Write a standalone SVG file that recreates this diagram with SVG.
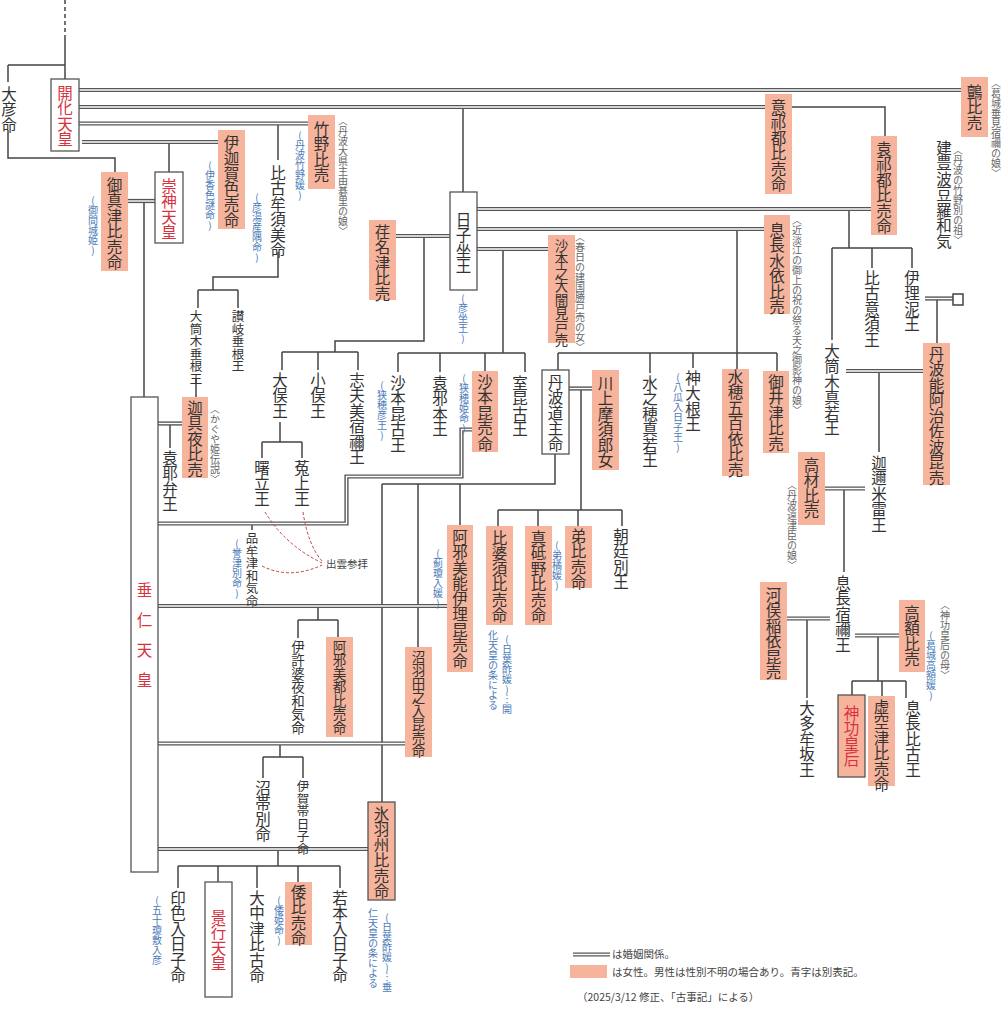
<svg xmlns="http://www.w3.org/2000/svg" width="1006" height="1012" viewBox="0 0 1006 1012">
<style>
.v{writing-mode:vertical-rl;text-orientation:upright;font-family:"Noto Sans CJK JP","Noto Sans CJK SC",sans-serif;font-size:15.5px;fill:#333}
.s{font-size:12.5px}
.m{font-size:13.5px}
.r{fill:#d8323f}
.a{writing-mode:vertical-rl;text-orientation:upright;font-family:"Noto Sans CJK JP",sans-serif;font-size:10px;fill:#666}
.b{fill:#4a7ab8}
.f{fill:#f6b49c}
.w{fill:#fff;stroke:#555;stroke-width:1.3}
.fb{fill:#f6b49c;stroke:#555;stroke-width:1.3}
.l{fill:none;stroke:#444;stroke-width:1.5}
.d1{fill:none;stroke:#555;stroke-width:4.2}
.d2{fill:none;stroke:#fff;stroke-width:1.4}
.h{font-family:"Noto Sans CJK JP",sans-serif;font-size:10.5px;fill:#444}
</style>
<defs>
<path id="m1" d="M79,90H961"/>
<path id="m2" d="M79,107H765"/>
<path id="m3" d="M79,123.5H308"/>
<path id="m4" d="M82,142H218"/>
<path id="m5" d="M128,201H155"/>
<path id="m6" d="M477,209H871"/>
<path id="m7" d="M477,229H764"/>
<path id="m8" d="M477,249H548"/>
<path id="m9" d="M396,236H450"/>
<path id="m10" d="M158,423.5H182"/>
<path id="m11" d="M472,429.5H461.5V476.5H346.5V523.5H158"/>
<path id="m12" d="M569,388.5H592"/>
<path id="m13" d="M158,606H447"/>
<path id="m14" d="M158,743.5H405"/>
<path id="m15" d="M158,849H368"/>
<path id="m16" d="M925,298.5H953"/>
<path id="m17" d="M846,371H923"/>
<path id="m18" d="M825,488.5H865"/>
<path id="m19" d="M787,618.5H830"/>
<path id="m20" d="M855,635.5H899"/>
<path id="m21" d="M573,954.5H610"/>
</defs>
<rect width="1006" height="1012" fill="#fff"/>
<g id="connectors">
<path class="l" d="M65,0V35" stroke-dasharray="4,3"/>
<path class="l" d="M65,35V79M8,65H65M8,65V82M8,130V158H115V172M169,143V172M278,125V160M463,108V192M792,107H885V136"/>
<path class="l" d="M278,252V277H213V290M198,290H238M198,290V308M238,290V308M196,378V397M170,425V448"/>
<path class="l" d="M424,237V341H335V352M282,352H358M282,352V370M318,352V370M358,352V370M280,422V442M262,442H302M262,442V458M302,442V458"/>
<path class="l" d="M503,250V353M398,353H525M398,353V372M440,353V372M485,353V371M525,353V372"/>
<path class="l" d="M849,210V248M832,248H912M832,248V340M872,248V268M912,248V268"/>
<path class="l" d="M737,230V369M558,353H777M558,353V370M650,353V373M693,353V368M777,353V371"/>
<path class="l" d="M937,300V343M879,372V452M844,490V572M807,620V698M878,637V681M852,681H906M852,681V695M882,681V696M906,681V698"/>
<path class="l" d="M252,525V530M555,454V484H382M382,484V802M418,484V647M460,484V525"/>
<path class="l" d="M581,390V510M498,510H622M498,510V526M538,510V526M578,510V526M622,510V526"/>
<path class="l" d="M318,607V620M298,620H338M298,620V638M338,620V637M280,745V757M263,757H303M263,757V778M303,757V778"/>
<path class="l" d="M278,850V866M178,866H340M178,866V888M218,866V882M257,866V888M298,866V882M340,866V888M144,202V397"/>
<g>
<use href="#m1" class="d1"/><use href="#m1" class="d2"/>
<use href="#m2" class="d1"/><use href="#m2" class="d2"/>
<use href="#m3" class="d1"/><use href="#m3" class="d2"/>
<use href="#m4" class="d1"/><use href="#m4" class="d2"/>
<use href="#m5" class="d1"/><use href="#m5" class="d2"/>
<use href="#m6" class="d1"/><use href="#m6" class="d2"/>
<use href="#m7" class="d1"/><use href="#m7" class="d2"/>
<use href="#m8" class="d1"/><use href="#m8" class="d2"/>
<use href="#m9" class="d1"/><use href="#m9" class="d2"/>
<use href="#m10" class="d1"/><use href="#m10" class="d2"/>
<use href="#m11" class="d1"/><use href="#m11" class="d2"/>
<use href="#m12" class="d1"/><use href="#m12" class="d2"/>
<use href="#m13" class="d1"/><use href="#m13" class="d2"/>
<use href="#m14" class="d1"/><use href="#m14" class="d2"/>
<use href="#m15" class="d1"/><use href="#m15" class="d2"/>
<use href="#m16" class="d1"/><use href="#m16" class="d2"/>
<use href="#m17" class="d1"/><use href="#m17" class="d2"/>
<use href="#m18" class="d1"/><use href="#m18" class="d2"/>
<use href="#m19" class="d1"/><use href="#m19" class="d2"/>
<use href="#m20" class="d1"/><use href="#m20" class="d2"/>
</g>
<path d="M265,512Q285,545 322,563M303,512Q308,545 322,561M262,566Q290,580 322,565" fill="none" stroke="#b44" stroke-width="1" stroke-dasharray="3,2"/>
</g>
<g id="n-oohiko"><text class="v" x="9" y="86">大彦命</text></g>
<g id="n-kaika"><rect class="w" x="51" y="79" width="28" height="72"/><text class="v r" x="65" y="85">開化天皇</text></g>
<g id="n-washi"><rect class="f" x="961" y="77" width="27" height="60"/><text class="v" x="974.5" y="84">鸇比売</text><text class="a" x="996" y="78">〈葛城垂見宿禰の娘〉</text></g>
<g id="n-okizu"><rect class="f" x="765" y="94" width="27" height="100"/><text class="v" x="778.5" y="99">意祁都比売命</text></g>
<g id="n-takeno"><rect class="f" x="308" y="115" width="27" height="74"/><text class="v" x="321.5" y="121">竹野比売</text><text class="a b" x="300" y="130">(丹波竹野媛)</text><text class="a" x="343" y="116">〈丹波大県主由碁里の娘〉</text></g>
<g id="n-ikaga"><rect class="f" x="218" y="130" width="27" height="99"/><text class="v" x="231.5" y="135">伊迦賀色売命</text><text class="a b" x="210" y="160">(伊香色謎命)</text></g>
<g id="n-hikoyumusumi"><text class="v" x="278" y="165">比古牟須美命</text><text class="a b" x="257" y="192">(彦湯産隅命)</text></g>
<g id="n-sujin"><rect class="w" x="155" y="172" width="28" height="71"/><text class="v r" x="169" y="178">崇神天皇</text></g>
<g id="n-mimatsu"><rect class="f" x="101" y="172" width="27" height="99"/><text class="v" x="114.5" y="177">御真津比売命</text><text class="a b" x="93" y="195">(御間城姫)</text></g>
<g id="n-hikoimasu"><rect class="w" x="450" y="192" width="27" height="98"/><text class="v" x="463.5" y="212">日子坐王</text><text class="a b" x="463" y="293">(彦坐王)</text></g>
<g id="n-okezu"><rect class="f" x="871" y="136" width="26" height="99"/><text class="v" x="884" y="141">袁祁都比売命</text></g>
<g id="n-taketoyo"><text class="v" x="944" y="140">建豊波豆羅和気</text><text class="a" x="958" y="145">〈丹波の竹野別の祖〉</text></g>
<g id="n-enatsu"><rect class="f" x="369" y="220" width="27" height="80"/><text class="v" x="382.5" y="224">荏名津比売</text></g>
<g id="n-sahonooo"><rect class="f" x="548" y="235" width="27" height="108"/><text class="v m" x="561.5" y="239">沙本之大闇見戸売</text><text class="a" x="580" y="232">〈春日の建国勝戸売の女〉</text></g>
<g id="n-okinaga-mizu"><rect class="f" x="764" y="215" width="26" height="99"/><text class="v" x="777" y="222">息長水依比売</text><text class="a" x="797" y="215">〈近淡江の御上の祝の祭る天之御影神の娘〉</text></g>
<g id="n-hikoosu"><text class="v" x="872" y="270">比古意須王</text></g>
<g id="n-irine"><text class="v" x="912" y="270">伊理泥王</text></g>
<g id="n-unknown"><rect x="953" y="294" width="10" height="11" fill="#fff" stroke="#444" stroke-width="1.5"/></g>
<g id="n-otsutsuki-mawaka"><text class="v" x="832" y="343">大筒木真若王</text></g>
<g id="n-tanba-aji"><rect class="f" x="923" y="343" width="27" height="142"/><text class="v" x="936.5" y="346">丹波能阿治佐波昆売</text></g>
<g id="n-omata"><text class="v" x="280" y="372">大俣王</text></g>
<g id="n-omata2"><text class="v" x="318" y="372">小俣王</text></g>
<g id="n-shibumi"><text class="v" x="357" y="372">志夫美宿禰王</text></g>
<g id="n-sahobiko"><text class="v" x="398" y="375">沙本昆古王</text><text class="a b" x="382" y="380">(狭穂彦王)</text></g>
<g id="n-oza"><text class="v" x="440" y="375">袁邪本王</text></g>
<g id="n-sahobime"><rect class="f" x="472" y="371" width="26" height="81"/><text class="v" x="485" y="374">沙本昆売命</text><text class="a b" x="464" y="373">(狭穂姫命)</text></g>
<g id="n-murobiko"><text class="v" x="520" y="375">室昆古王</text></g>
<g id="n-tanbamichi"><rect class="w" x="542" y="370" width="27" height="84"/><text class="v" x="555.5" y="374">丹波道主命</text></g>
<g id="n-kawakami"><rect class="f" x="592" y="370" width="27" height="100"/><text class="v" x="605.5" y="375">川上摩須郎女</text></g>
<g id="n-mizuho-mawaka"><text class="v" x="650" y="375">水之穂真若王</text></g>
<g id="n-kamuoone"><text class="v" x="693" y="370">神大根王</text><text class="a b" x="678" y="372">(八瓜入日子王)</text></g>
<g id="n-mizuho-ioyori"><rect class="f" x="722" y="369" width="27" height="107"/><text class="v" x="735.5" y="369">水穂五百依比売</text></g>
<g id="n-mii"><rect class="f" x="763" y="371" width="26" height="82"/><text class="v" x="776" y="374">御井津比売</text></g>
<g id="n-otsutsuki-tarune"><text class="v s" x="196" y="310">大筒木垂根王</text></g>
<g id="n-sanuki"><text class="v s" x="238" y="310">讃岐垂根王</text></g>
<g id="n-kaguya"><rect class="f" x="182" y="397" width="26" height="81"/><text class="v" x="195" y="400">迦具夜比売</text><text class="a" x="215" y="404">〈かぐや姫伝説〉</text></g>
<g id="n-ozabe"><text class="v" x="170" y="450">袁耶弁王</text></g>
<g id="n-suinin"><rect class="w" x="131" y="397" width="27" height="475"/><text class="v r" x="144.5" y="582">垂</text><text class="v r" x="144.5" y="612">仁</text><text class="v r" x="144.5" y="642">天</text><text class="v r" x="144.5" y="672">皇</text></g>
<g id="n-akebotatsu"><text class="v" x="262" y="460">曙立王</text></g>
<g id="n-unakami"><text class="v" x="302" y="460">菟上王</text></g>
<g id="n-homutsuwake"><text class="v s" x="252" y="532">品牟津和気命</text><text class="a b" x="237" y="538">(誉津別命)</text></g>
<text class="h" x="326" y="568">出雲参拝</text>
<g id="n-azami-iri"><rect class="f" x="447" y="525" width="26" height="147"/><text class="v" x="460" y="529">阿邪美能伊理昆売命</text><text class="a b" x="438" y="548">(薊瓊入媛)</text></g>
<g id="n-hibasu"><rect class="f" x="486" y="526" width="27" height="99"/><text class="v" x="499.5" y="530">比婆須比売命</text><text class="a b" x="507" y="634">(日葉酢媛)…開</text><text class="a b" x="493" y="630">化天皇の条による</text></g>
<g id="n-matono"><rect class="f" x="525" y="526" width="27" height="99"/><text class="v" x="538.5" y="530">真砥野比売命</text></g>
<g id="n-otohime"><rect class="f" x="565" y="526" width="27" height="62"/><text class="v" x="578.5" y="528">弟比売命</text><text class="a b" x="557" y="540">(弟橘媛)</text></g>
<g id="n-mikado"><text class="v" x="621" y="528">朝廷別王</text></g>
<g id="n-takaki"><rect class="f" x="798" y="452" width="27" height="73"/><text class="v" x="811.5" y="457">高材比売</text><text class="a" x="792" y="480">〈丹波遠津臣の娘〉</text></g>
<g id="n-kanimeikazuchi"><text class="v" x="879" y="455">迦邇米雷王</text></g>
<g id="n-okinaga-sukune"><text class="v" x="843" y="575">息長宿禰王</text></g>
<g id="n-kawamata"><rect class="f" x="760" y="582" width="27" height="98"/><text class="v" x="773.5" y="587">河俣稲依昆売</text></g>
<g id="n-takanuka"><rect class="f" x="899" y="600" width="26" height="72"/><text class="v" x="912" y="605">高額比売</text><text class="a b" x="931" y="630">(葛城高額媛)</text><text class="a" x="945" y="600">〈神功皇后の母〉</text></g>
<g id="n-otamusaka"><text class="v" x="807" y="700">大多牟坂王</text></g>
<g id="n-jingu"><rect class="fb" x="838" y="695" width="27" height="82"/><text class="v r" x="851.5" y="705">神功皇后</text></g>
<g id="n-sora"><rect class="f" x="868" y="696" width="27" height="90"/><text class="v" x="881.5" y="699">虚空津比売命</text></g>
<g id="n-okinaga-hiko"><text class="v" x="913" y="700">息長比古王</text></g>
<g id="n-ikobaya"><text class="v m" x="298" y="640">伊許婆夜和気命</text></g>
<g id="n-azamitsu"><rect class="f" x="326" y="637" width="27" height="100"/><text class="v m" x="339.5" y="640">阿邪美都比売命</text></g>
<g id="n-nubata"><rect class="f" x="405" y="647" width="27" height="110"/><text class="v m" x="418.5" y="650">沼羽田之入昆売命</text></g>
<g id="n-nutarashi"><text class="v" x="263" y="780">沼帯別命</text></g>
<g id="n-ikatarashi"><text class="v s" x="303" y="780">伊賀帯日子命</text></g>
<g id="n-hibasu2"><rect class="fb" x="368" y="802" width="27" height="98"/><text class="v" x="381.5" y="806">氷羽州比売命</text><text class="a b" x="387" y="912">(日葉酢媛)…垂</text><text class="a b" x="373" y="908">仁天皇の条による</text></g>
<g id="n-inishiki"><text class="v" x="178" y="890">印色入日子命</text><text class="a b" x="157" y="895">(五十瓊敷入彦</text></g>
<g id="n-keiko"><rect class="w" x="205" y="882" width="27" height="115"/><text class="v r" x="218.5" y="909">景行天皇</text></g>
<g id="n-onakatsu"><text class="v" x="257" y="890">大中津比古命</text></g>
<g id="n-yamatohime"><rect class="f" x="285" y="882" width="27" height="63"/><text class="v" x="298.5" y="884">倭比売命</text><text class="a b" x="279" y="895">(倭姫命)</text></g>
<g id="n-wakaki"><text class="v" x="340" y="890">若本入日子命</text></g>
<g id="legend">
<use href="#m21" class="d1"/><use href="#m21" class="d2"/>
<text class="h" x="612" y="958">は婚姻関係。</text>
<rect class="f" x="570" y="965" width="37" height="13"/>
<text class="h" x="612" y="976">は女性。男性は性別不明の場合あり。青字は別表記。</text>
<text class="h" x="577" y="1001">（2025/3/12 修正、「古事記」による）</text>
</g>
</svg>
